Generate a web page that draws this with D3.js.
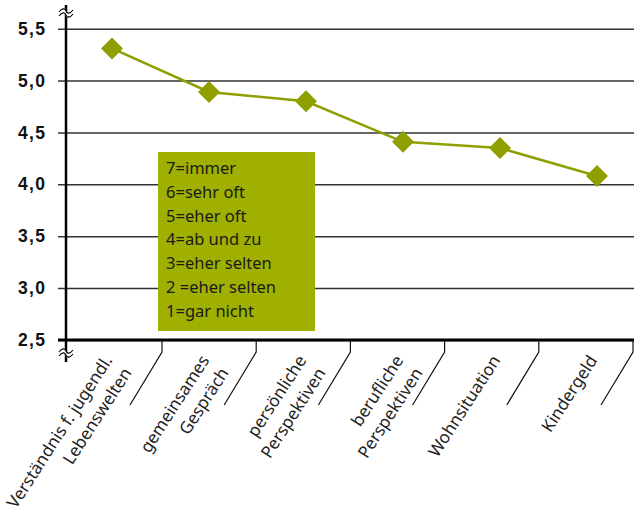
<!DOCTYPE html>
<html>
<head>
<meta charset="utf-8">
<script src="https://cdn.jsdelivr.net/npm/d3@7"></script>
<style>
  html, body { margin: 0; padding: 0; background: #fff; }
  svg { display: block; }
</style>
</head>
<body>
<svg id="chart" width="634" height="521"></svg>
<script>
// Survey items (multi-line labels split into lines)
const categories = [
  ["Verständnis f. jugendl.", "Lebenswelten"],
  ["gemeinsames", "Gespräch"],
  ["persönliche", "Perspektiven"],
  ["berufliche", "Perspektiven"],
  ["Wohnsituation"],
  ["Kindergeld"]
];
// Mean ratings (1 = gar nicht ... 7 = immer)
const values = [5.31, 4.89, 4.80, 4.41, 4.35, 4.08];
const yTicks = [2.5, 3.0, 3.5, 4.0, 4.5, 5.0, 5.5];
const scaleLegend = [
  "7=immer",
  "6=sehr oft",
  "5=eher oft",
  "4=ab und zu",
  "3=eher selten",
  "2 =eher selten",
  "1=gar nicht"
];

const svg = d3.select("#chart");
const green = "#8f9f00";
const boxGreen = "#9fb000";
const labelFont = "'Noto Sans', 'Open Sans', sans-serif";

const axisX = 66;
const y = d3.scaleLinear().domain([2.5, 5.5]).range([340, 28.7]);
const idx = d3.range(categories.length);
const band = d3.scaleBand().domain(idx).range([67.8, 633]);
const xp = d3.scalePoint().domain(idx).range([112, 597]);

// Horizontal gridlines with ticks left of the axis
const yAxis = d3.axisLeft(y)
  .tickValues(yTicks)
  .tickSize(-(634 - axisX))
  .tickPadding(19.5)
  .tickFormat(d => d3.format(".1f")(d).replace(".", ","));
const gy = svg.append("g").attr("transform", `translate(${axisX},0)`).call(yAxis);
gy.select(".domain").remove();
gy.selectAll(".tick line")
  .attr("x1", -8)
  .attr("stroke", "#333")
  .attr("stroke-width", 1.5);
gy.selectAll(".tick text")
  .attr("fill", "#111")
  .attr("font-family", "'Liberation Sans', Arial, sans-serif")
  .attr("font-weight", "bold")
  .attr("font-size", 17.5)
  .attr("letter-spacing", 1.4);

// Bottom axis line (baseline at 2,5)
svg.append("line")
  .attr("x1", axisX - 8).attr("x2", 634)
  .attr("y1", y(2.5)).attr("y2", y(2.5))
  .attr("stroke", "#000").attr("stroke-width", 3);

// Vertical axis line
svg.append("line")
  .attr("x1", axisX).attr("x2", axisX)
  .attr("y1", 5).attr("y2", 362)
  .attr("stroke", "#000").attr("stroke-width", 2.5);

// Axis break marks (top and bottom)
function breakMark(cy) {
  const g = svg.append("g").attr("transform", `translate(${axisX},${cy})`);
  const wave = d => `M-7,${d + 1} C-4,${d - 3} -1,${d - 3} 0,${d} S4,${d + 3} 7,${d - 1}`;
  g.append("path").attr("d", `M-7,-1 C-4,-5 -1,-5 0,-2 S4,1 7,-3 L7,2 C4,6 1,6 0,3 S-4,-0 -7,4 Z`)
    .attr("fill", "#fff");
  g.append("path").attr("d", wave(-2)).attr("fill", "none").attr("stroke", "#000").attr("stroke-width", 1.1);
  g.append("path").attr("d", wave(2)).attr("fill", "none").attr("stroke", "#000").attr("stroke-width", 1.1);
}
breakMark(13);
breakMark(353);

// Category separators: short drop then a slanted stroke
idx.forEach(i => {
  const bx = band(i) + band.bandwidth();
  svg.append("path")
    .attr("d", `M${bx},${y(2.5)} L${bx},352 L${bx - 32},405`)
    .attr("fill", "none")
    .attr("stroke", "#111")
    .attr("stroke-width", 1.2);
});

// Rotated category labels, right-aligned, first line next to the axis
const lh = 23;
idx.forEach(i => {
  const lines = categories[i];
  const g = svg.append("g")
    .attr("transform", `translate(${xp(i) - 4},${357}) rotate(-57)`);
  const t = g.append("text")
    .attr("text-anchor", "end")
    .attr("font-family", labelFont)
    .attr("font-size", 17)
    .attr("fill", "#222");
  lines.forEach((ln, k) => {
    t.append("tspan")
      .attr("x", 0)
      .attr("y", k * lh + 6)
      .text(ln);
  });
});

// Legend box of the rating scale
const box = svg.append("g");
box.append("rect")
  .attr("x", 158).attr("y", 152)
  .attr("width", 157).attr("height", 179)
  .attr("fill", boxGreen);
box.selectAll("text").data(scaleLegend).join("text")
  .attr("x", 166)
  .attr("y", (d, k) => 174 + k * 23.8)
  .attr("font-family", labelFont)
  .attr("font-size", 16.5)
  .attr("fill", "#1a1a1a")
  .text(d => d);

// Data line and diamond markers
const line = d3.line().x((d, i) => xp(i)).y(d => y(d));
svg.append("path")
  .datum(values)
  .attr("d", line)
  .attr("fill", "none")
  .attr("stroke", green)
  .attr("stroke-width", 2.5);

svg.selectAll(".marker").data(values).join("path")
  .attr("class", "marker")
  .attr("transform", (d, i) => `translate(${xp(i)},${y(d)})`)
  .attr("d", "M0,-11 L11,0 L0,11 L-11,0 Z")
  .attr("fill", green);
</script>
</body>
</html>
